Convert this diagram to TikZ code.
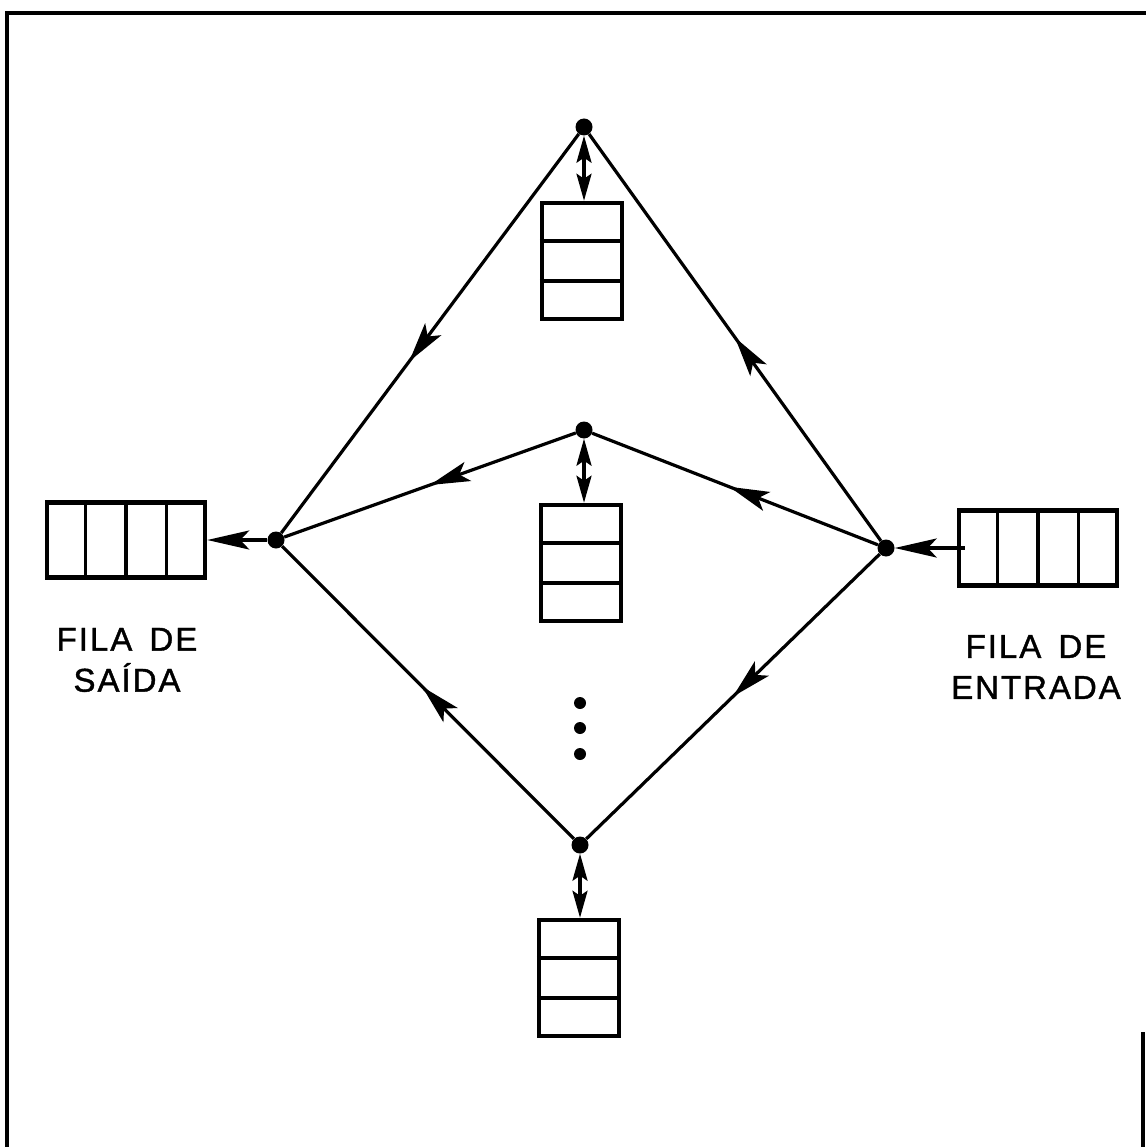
\documentclass[tikz,border=0pt]{standalone}
\usepackage{fontspec}
\setmainfont{Liberation Sans}[LetterSpace=6,FakeBold=1.2]
\usetikzlibrary{arrows.meta,decorations.markings,calc}

\tikzset{
  junction/.style={circle,fill=black,inner sep=0pt,minimum size=17pt},
  smalldot/.style={circle,fill=black,inner sep=0pt,minimum size=12pt},
  queuebox/.style={draw,line width=4.5pt,inner sep=0pt},
  vqueue/.style={queuebox,minimum width=80pt,minimum height=116pt},
  hqueue/.style={queuebox,minimum width=158pt,minimum height=75pt},
  divider/.style={line width=3.5pt},
  edge/.style={line width=3.2pt},
  midarrow/.style={edge,postaction={decorate},
    decoration={markings,mark=at position #1 with {\arrow{Stealth[length=40pt,width=20pt,inset=9pt]}}}},
  sidehead/.tip={Stealth[length=42pt,width=19pt,inset=9pt]},
  vhead/.tip={Stealth[length=27pt,width=15pt,inset=5pt]},
  caption/.style={align=center,font=\fontsize{33}{41}\selectfont}
}

\begin{document}
\begin{tikzpicture}[x=1pt,y=-1pt]
\useasboundingbox (0,0) rectangle (1146,1147);

% page frame
\draw[line width=4.5pt] (7,1147) -- (7,13) -- (1146,13);
\draw[line width=3.5pt] (1143,1032) -- (1143,1147);

% junction points
\node[junction] (T) at (584,127) {};
\node[junction] (M) at (584,430) {};
\node[junction] (B) at (580,845) {};
\node[junction] (L) at (276,540) {};
\node[junction] (R) at (886,548) {};

% vertical queues attached to the servers
\node[vqueue] (qt) at (582,261) {};
\node[vqueue] (qm) at (581,563) {};
\node[vqueue] (qb) at (579,978) {};
\foreach \q in {qt,qm,qb}{
  \draw[divider] ($(\q.north west)!1/3!(\q.south west)$) -- ($(\q.north east)!1/3!(\q.south east)$);
  \draw[divider] ($(\q.north west)!2/3!(\q.south west)$) -- ($(\q.north east)!2/3!(\q.south east)$);
}

% output and input queues
\node[hqueue] (qout) at (126,540) {};
\node[hqueue] (qin) at (1038,548) {};
\foreach \q in {qout,qin}{
  \foreach \f in {1,2,3}{
    \draw[divider] ($(\q.north west)!\f/4!(\q.north east)$) -- ($(\q.south west)!\f/4!(\q.south east)$);
  }
}

% links between junctions
\draw[midarrow=0.57] (T) -- (L);
\draw[midarrow=0.50] (R) -- (T);
\draw[midarrow=0.52] (R) -- (M);
\draw[midarrow=0.50] (M) -- (L);
\draw[midarrow=0.50] (R) -- (B);
\draw[midarrow=0.52] (B) -- (L);

% queue connections
\draw[edge,-sidehead] (L) -- (qout.east);
\draw[edge,-sidehead] ([xshift=8pt]qin.west) -- (R);
\draw[edge,vhead-vhead] (T) -- (T |- qt.north);
\draw[edge,vhead-vhead] (M) -- (M |- qm.north);
\draw[edge,vhead-vhead] (B) -- (B |- qb.north);

% ellipsis between the middle and bottom servers
\node[smalldot] (d1) at (580,703) {};
\node[smalldot] (d2) at (580,728) {};
\node[smalldot] (d3) at (580,754) {};

% captions
\node[caption] (capout) at (127,660) {FILA\hspace{6pt} DE\\SAÍDA};
\node[caption] (capin) at (1036,667) {FILA\hspace{6pt} DE\\ENTRADA};
\end{tikzpicture}
\end{document}
